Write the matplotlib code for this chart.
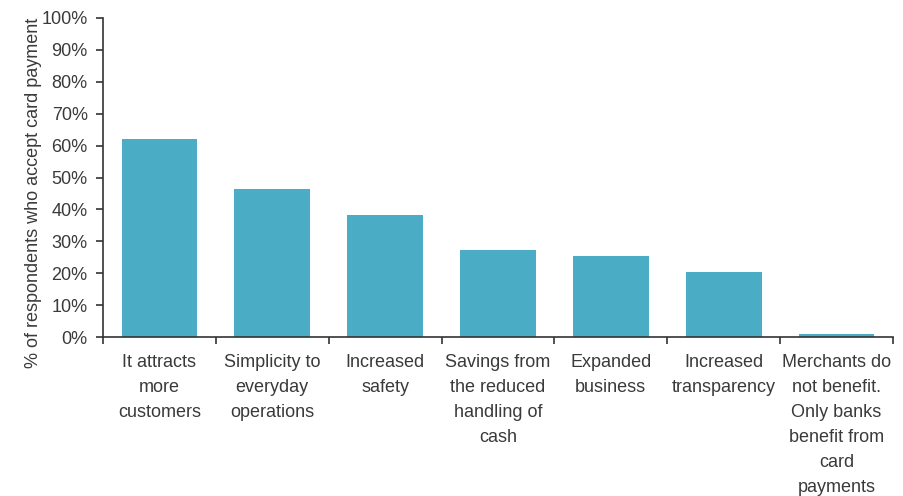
import matplotlib
matplotlib.use("Agg")
import matplotlib.pyplot as plt
import numpy as np
from matplotlib.ticker import FixedLocator, PercentFormatter

categories = [
    "It attracts\nmore\ncustomers",
    "Simplicity to\neveryday\noperations",
    "Increased\nsafety",
    "Savings from\nthe reduced\nhandling of\ncash",
    "Expanded\nbusiness",
    "Increased\ntransparency",
    "Merchants do\nnot benefit.\nOnly banks\nbenefit from\ncard\npayments",
]
values = [62.1, 46.5, 38.4, 27.2, 25.3, 20.3, 0.9]
y_label = "% of respondents who accept card payment"

plt.rcParams["font.family"] = ["Liberation Sans", "DejaVu Sans"]
text_color = "#3a3a3a"
axis_color = "#333333"
bar_color = "#4bacc6"

fig = plt.figure(figsize=(9.04, 4.96), dpi=100)
ax = fig.add_axes([103 / 904, 1 - 337 / 496, 790 / 904, 319 / 496])

x = np.arange(len(categories))
ax.bar(x, values, width=0.67, color=bar_color, edgecolor="none", zorder=2)

ax.set_xlim(-0.5, len(categories) - 0.5)
ax.set_ylim(0, 100)
ax.set_yticks(np.arange(0, 101, 10))
ax.yaxis.set_major_formatter(PercentFormatter(decimals=0))

ax.set_xticks(x)
ax.set_xticklabels(categories, linespacing=1.62)
ax.xaxis.set_minor_locator(FixedLocator(np.arange(-0.5, len(categories), 1.0)))
ax.tick_params(axis="x", which="major", length=0, pad=12, labelsize=13,
               labelcolor=text_color)
ax.tick_params(axis="x", which="minor", length=5, width=1.2, color=axis_color,
               direction="out")
ax.tick_params(axis="y", length=5, width=1.2, color=axis_color, pad=6,
               labelsize=13, labelcolor=text_color)

for side in ("top", "right"):
    ax.spines[side].set_visible(False)
for side in ("left", "bottom"):
    ax.spines[side].set_color(axis_color)
    ax.spines[side].set_linewidth(1.2)

ax.set_ylabel(y_label, fontsize=13, color=text_color)
ax.yaxis.set_label_coords(-0.077, 0.451)

fig.savefig("out.png", dpi=100)
